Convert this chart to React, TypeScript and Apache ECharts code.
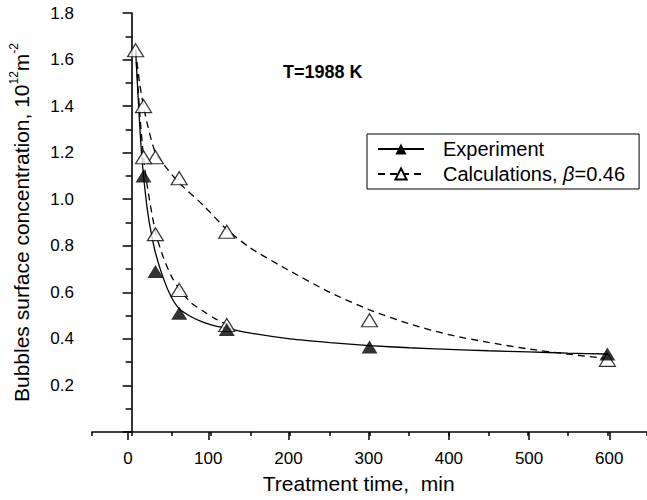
import React, { useEffect, useRef } from "react";
import * as echarts from "echarts";

// Experiment (filled triangles)
const expTime = [15, 30, 60, 120, 300, 600];
const expValue = [1.1, 0.69, 0.51, 0.44, 0.365, 0.335];
// Experiment fitted curve (solid)
const expFitTime = [5, 8, 10, 12, 15, 20, 25, 30, 40, 50, 60, 75, 90, 105, 120, 150, 200, 250, 300, 350, 400, 450, 500, 550, 600];
const expFitValue = [1.64, 1.45, 1.33, 1.22, 1.1, 0.95, 0.85, 0.77, 0.66, 0.58, 0.53, 0.495, 0.472, 0.456, 0.446, 0.425, 0.4, 0.384, 0.371, 0.362, 0.355, 0.349, 0.344, 0.339, 0.335];
// Calculations, upper set (open triangles)
const calcATime = [5, 15, 30, 60, 120, 300, 600];
const calcAValue = [1.64, 1.4, 1.18, 1.09, 0.86, 0.48, 0.31];
const calcAFitTime = [5, 10, 15, 20, 30, 45, 60, 90, 120, 150, 190, 250, 300, 350, 400, 450, 500, 550, 600];
const calcAFitValue = [1.64, 1.5, 1.4, 1.32, 1.2, 1.13, 1.07, 0.975, 0.87, 0.79, 0.71, 0.6, 0.525, 0.465, 0.418, 0.385, 0.357, 0.335, 0.315];
// Calculations, lower set (open triangles)
const calcBTime = [15, 30, 60, 120];
const calcBValue = [1.18, 0.85, 0.61, 0.46];
const calcBFitTime = [5, 10, 15, 20, 30, 40, 50, 60, 75, 90, 105, 120];
const calcBFitValue = [1.64, 1.38, 1.18, 1.05, 0.86, 0.75, 0.67, 0.615, 0.555, 0.52, 0.487, 0.462];

const FONT = "Liberation Sans";
const EXP_NAME = "Experiment";
const CALC_NAME = "Calculations, β=0.46";

const zip = (a: number[], b: number[]) => a.map((t, i) => [t, b[i]]);

export default function App() {
  const ref = useRef<HTMLDivElement>(null);
  useEffect(() => {
    if (!ref.current) return;
    const chart = echarts.init(ref.current, null, { renderer: "svg" });
    const black = "#000";
    const openTri = { color: "#fff", borderColor: black, borderWidth: 1.2 };
    chart.setOption({
      animation: false,
      backgroundColor: "#fff",
      textStyle: { fontFamily: FONT, color: black },
      grid: [
        { left: 88, top: 13, width: 561, height: 419 },
        { left: 128.1, top: 13, width: 481.2, height: 419 },
      ],
      xAxis: [
        {
          type: "value",
          gridIndex: 0,
          min: -50,
          max: 650,
          interval: 50,
          axisLine: { show: true, lineStyle: { color: black, width: 1.6 } },
          axisTick: { show: true, length: 4, lineStyle: { color: black, width: 1.5 } },
          axisLabel: { show: false },
          splitLine: { show: false },
        },
        {
          type: "value",
          gridIndex: 1,
          min: 0,
          max: 600,
          interval: 100,
          axisLine: { show: false },
          axisTick: { show: true, length: 8, lineStyle: { color: black, width: 1.5 } },
          axisLabel: { fontSize: 17, color: black, fontFamily: FONT, margin: 18 },
          splitLine: { show: false },
          name: "Treatment time,  min",
          nameLocation: "middle",
          nameGap: 41,
          nameTextStyle: { fontSize: 21, color: black, fontFamily: FONT, padding: [0, 20, 0, 0] },
        },
      ],
      yAxis: [
        {
          type: "value",
          gridIndex: 0,
          min: 0,
          max: 1.8,
          interval: 0.2,
          axisLine: { show: true, lineStyle: { color: black, width: 1.6 } },
          axisTick: { show: true, length: 9, lineStyle: { color: black, width: 1.5 } },
          minorTick: { show: true, splitNumber: 2, length: 6, lineStyle: { color: black, width: 1.5 } },
          axisLabel: {
            fontSize: 17,
            color: black,
            fontFamily: FONT,
            margin: 18,
            formatter: (v: number) => (v === 0 ? "" : v.toFixed(1)),
          },
          splitLine: { show: false },
          name: "Bubbles surface concentration, 10{sup|12}m{sup|-2}",
          nameLocation: "middle",
          nameGap: 58,
          nameTextStyle: {
            fontSize: 21,
            color: black,
            fontFamily: FONT,
            lineHeight: 26,
            rich: {
              sup: { fontSize: 12, lineHeight: 12, verticalAlign: "top", fontFamily: FONT, color: black },
            },
          },
        },
        { type: "value", gridIndex: 1, min: 0, max: 1.8, show: false },
      ],
      legend: {
        data: [EXP_NAME, CALC_NAME],
        orient: "vertical",
        left: 367,
        top: 134,
        padding: [5, 14, 5, 10],
        itemGap: 5,
        itemWidth: 46,
        itemHeight: 14,
        borderColor: black,
        borderWidth: 1,
        backgroundColor: "#fff",
        textStyle: {
          fontSize: 20,
          color: black,
          fontFamily: FONT,
          padding: [0, 0, 0, 14],
          rich: { i: { fontStyle: "italic", fontSize: 20, fontFamily: FONT, color: black } },
        },
        formatter: (name: string) => (name === CALC_NAME ? "Calculations, {i|β}=0.46" : name),
      },
      graphic: [
        {
          type: "text",
          left: 283,
          top: 63,
          style: { text: "T=1988 K", font: `bold 18px "${FONT}"`, fill: black },
        },
      ],
      series: [
        {
          name: EXP_NAME,
          type: "line",
          xAxisIndex: 0,
          yAxisIndex: 0,
          data: zip(expFitTime, expFitValue),
          smooth: 0.25,
          showSymbol: false,
          symbol: "triangle",
          symbolSize: [15, 13],
          itemStyle: { color: black },
          lineStyle: { color: black, width: 1.3 },
          z: 2,
        },
        {
          name: CALC_NAME,
          type: "line",
          xAxisIndex: 0,
          yAxisIndex: 0,
          data: zip(calcAFitTime, calcAFitValue),
          smooth: 0.25,
          showSymbol: false,
          symbol: "triangle",
          symbolSize: [15, 13],
          itemStyle: openTri,
          lineStyle: { color: black, width: 1.3, type: [7, 5] },
          z: 2,
        },
        {
          name: "calcBFit",
          type: "line",
          xAxisIndex: 0,
          yAxisIndex: 0,
          data: zip(calcBFitTime, calcBFitValue),
          smooth: 0.25,
          showSymbol: false,
          lineStyle: { color: black, width: 1.3, type: [7, 5] },
          z: 2,
        },
        {
          name: "calcAPts",
          type: "scatter",
          xAxisIndex: 0,
          yAxisIndex: 0,
          data: zip(calcATime, calcAValue),
          symbol: "triangle",
          symbolSize: [16, 13],
          itemStyle: openTri,
          z: 3,
        },
        {
          name: "calcBPts",
          type: "scatter",
          xAxisIndex: 0,
          yAxisIndex: 0,
          data: zip(calcBTime, calcBValue),
          symbol: "triangle",
          symbolSize: [16, 13],
          itemStyle: openTri,
          z: 3,
        },
        {
          name: "expPts",
          type: "scatter",
          xAxisIndex: 0,
          yAxisIndex: 0,
          data: zip(expTime, expValue),
          symbol: "triangle",
          symbolSize: [16, 13],
          itemStyle: { color: black },
          z: 4,
        },
      ],
    });
    return () => chart.dispose();
  }, []);
  return (
    <div
      ref={ref}
      style={{ position: "fixed", left: 0, top: 0, width: 647, height: 500, background: "#fff" }}
    />
  );
}
